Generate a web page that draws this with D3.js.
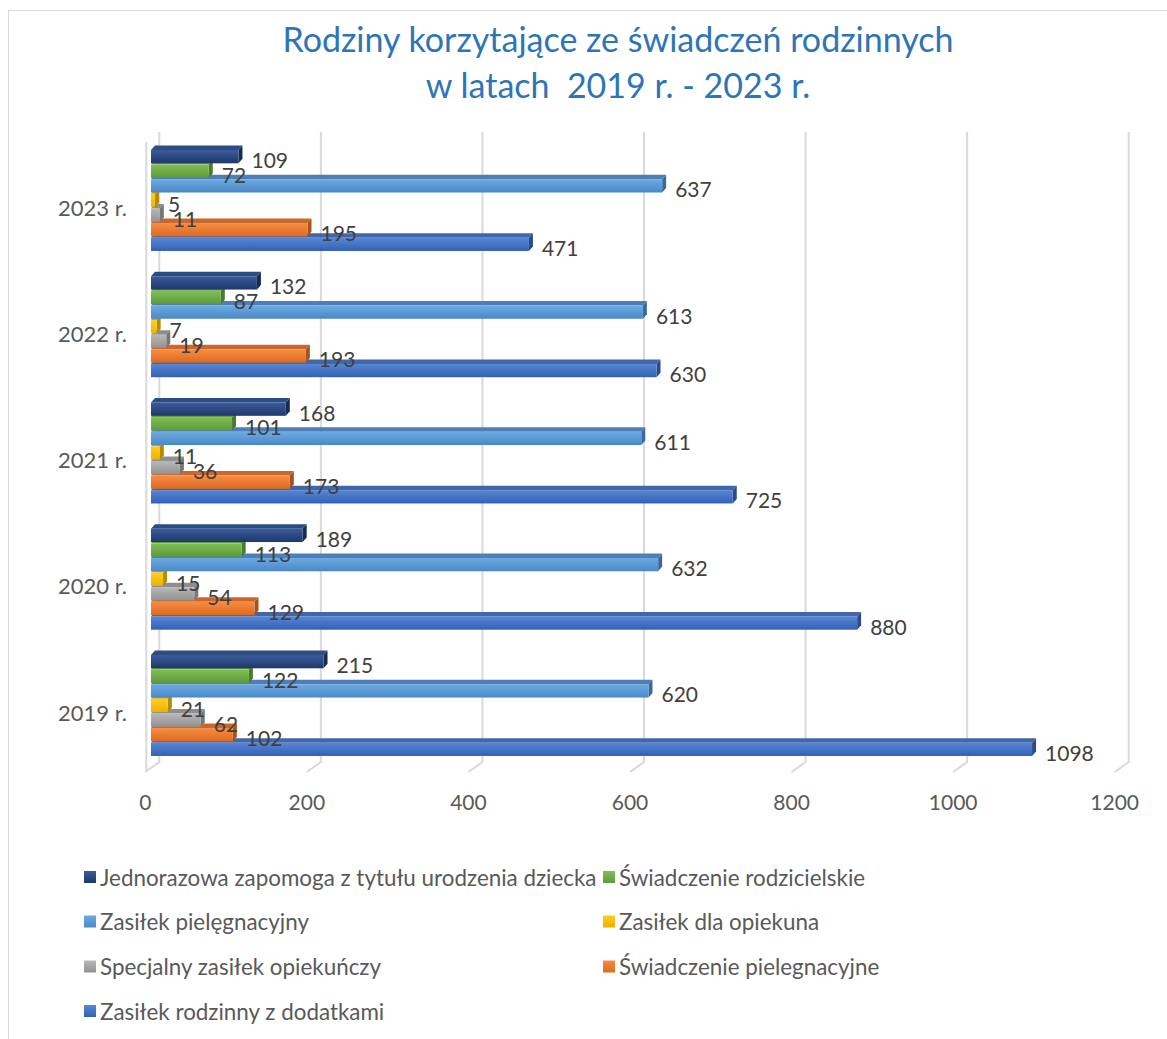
<!DOCTYPE html>
<html>
<head>
<meta charset="utf-8">
<script src="https://cdn.jsdelivr.net/npm/d3@7"></script>
<style>
  html, body { margin: 0; padding: 0; background: #fff; }
  svg { display: block; }
</style>
</head>
<body>
<svg id="chart" width="1167" height="1039"></svg>
<script>
// ---- data ----
const categories = ["2023 r.", "2022 r.", "2021 r.", "2020 r.", "2019 r."];
const seriesNames = [
  "Jednorazowa zapomoga z tytułu urodzenia dziecka",
  "Świadczenie rodzicielskie",
  "Zasiłek pielęgnacyjny",
  "Zasiłek dla opiekuna",
  "Specjalny zasiłek opiekuńczy",
  "Świadczenie pielegnacyjne",
  "Zasiłek rodzinny z dodatkami"
];
const jednorazowa      = [109, 132, 168, 189, 215];
const rodzicielskie    = [72, 87, 101, 113, 122];
const pielegnacyjny    = [637, 613, 611, 632, 620];
const dlaOpiekuna      = [5, 7, 11, 15, 21];
const specjalny        = [11, 19, 36, 54, 62];
const swPielegnacyjne  = [195, 193, 173, 129, 102];
const rodzinny         = [471, 630, 725, 880, 1098];
const seriesValues = [jednorazowa, rodzicielskie, pielegnacyjny, dlaOpiekuna, specjalny, swPielegnacyjne, rodzinny];
const tickValues = [0, 200, 400, 600, 800, 1000, 1200];
const titleLines = ["Rodziny korzytające ze świadczeń rodzinnych", "w latach  2019 r. - 2023 r."];

// ---- styles ----
const palette = [
  {light: "#3A5C9C", dark: "#1F3868", top: "#2C4C84", end: "#172C52"},
  {light: "#80BF56", dark: "#5E9A3A", top: "#62A03E", end: "#4A7A2E"},
  {light: "#6DAAE2", dark: "#4A89C8", top: "#4E7EB6", end: "#3A69A0"},
  {light: "#FFCD22", dark: "#EDB200", top: "#D6A000", end: "#B88A00"},
  {light: "#B8B8B8", dark: "#929292", top: "#8E8E8E", end: "#777777"},
  {light: "#F68D44", dark: "#DE6A1E", top: "#C9682C", end: "#A8531C"},
  {light: "#5887D4", dark: "#3360B5", top: "#4366A8", end: "#2B4C8C"}
];
const FONT = "Lato, 'Open Sans', sans-serif";

const svg = d3.select("#chart");
const defs = svg.append("defs");
palette.forEach((p, i) => {
  const g = defs.append("linearGradient").attr("id", "g" + i)
    .attr("x1", 0).attr("y1", 0).attr("x2", 0).attr("y2", 1);
  g.append("stop").attr("offset", "0%").attr("stop-color", p.light);
  g.append("stop").attr("offset", "100%").attr("stop-color", p.dark);
});

// chart border
svg.append("rect").attr("x", 8.5).attr("y", 10.5).attr("width", 1300).attr("height", 1200)
  .attr("fill", "none").attr("stroke", "#D9D9D9").attr("stroke-width", 1);

// title
svg.append("g").selectAll("text").data(titleLines).join("text")
  .attr("x", 618).attr("y", (d, i) => 38 + i * 46)
  .attr("text-anchor", "middle").attr("dominant-baseline", "central")
  .attr("font-family", FONT).attr("font-size", 34).attr("fill", "#2E75B6")
  .attr("xml:space", "preserve").style("white-space", "pre")
  .text(d => d);

// scales
const x = d3.scaleLinear().domain([0, 1200]).range([159.3, 1128.7]);   // back wall (gridlines)
const xb = d3.scaleLinear().domain([0, 1200]).range([151, 1113.9]);    // bar front faces
const DEPTH_X = 14, DEPTH_Y = 10;
const y = d3.scaleBand().domain(categories).range([138, 138 + 5 * 126.25])
  .paddingInner(0.19).paddingOuter(0.095);
const yInner = d3.scaleBand().domain(seriesNames).range([0, y.bandwidth()]);
const faceH = yInner.bandwidth() - 1.3;
const bdx = 4, bdy = 4.5;

const gridTop = 132, gridBottom = 762;
svg.append("line").attr("x1", x(0) - DEPTH_X + 1).attr("x2", x(0) - DEPTH_X + 1)
  .attr("y1", gridTop + DEPTH_Y).attr("y2", gridBottom + DEPTH_Y)
  .attr("stroke", "#D9D9D9").attr("stroke-width", 2);
svg.append("g").selectAll("path").data(tickValues).join("path")
  .attr("d", d => `M${x(d)},${gridTop}L${x(d)},${gridBottom}L${x(d) - DEPTH_X},${gridBottom + DEPTH_Y}`)
  .attr("fill", "none").attr("stroke", "#D9D9D9").attr("stroke-width", 2);

// tick labels
svg.append("g").selectAll("text").data(tickValues).join("text")
  .attr("x", d => x(d) - 14).attr("y", 801)
  .attr("text-anchor", "middle").attr("dominant-baseline", "central")
  .attr("font-family", FONT).attr("font-size", 21).attr("fill", "#595959")
  .text(d => d);

// category labels
svg.append("g").selectAll("text").data(categories).join("text")
  .attr("x", 127).attr("y", d => y(d) + y.bandwidth() / 2 + 6)
  .attr("text-anchor", "end").attr("dominant-baseline", "central")
  .attr("font-family", FONT).attr("font-size", 22).attr("fill", "#595959")
  .text(d => d);

// bars
const bars = [];
categories.forEach((c, ci) => {
  seriesNames.forEach((s, si) => {
    bars.push({c, s, si, v: seriesValues[si][ci]});
  });
});
bars.sort((a, b) => (y(b.c) + yInner(b.s)) - (y(a.c) + yInner(a.s)));
const barG = svg.append("g");
bars.forEach(b => {
  const x0 = xb(0), x1 = xb(b.v);
  const t = y(b.c) + yInner(b.s);
  const p = palette[b.si];
  const g = barG.append("g");
  g.append("path")
    .attr("d", `M${x0},${t}L${x0 + bdx},${t - bdy}L${x1 + bdx},${t - bdy}L${x1},${t}Z`)
    .attr("fill", p.top);
  g.append("path")
    .attr("d", `M${x1},${t}L${x1 + bdx},${t - bdy}L${x1 + bdx},${t + faceH - bdy}L${x1},${t + faceH}Z`)
    .attr("fill", p.end);
  g.append("rect").attr("x", x0).attr("y", t).attr("width", Math.max(0, x1 - x0)).attr("height", faceH)
    .attr("fill", `url(#g${b.si})`);
});

// data labels
svg.append("g").selectAll("text").data(bars).join("text")
  .attr("x", d => xb(d.v) + 13)
  .attr("y", d => y(d.c) + yInner(d.s) + faceH / 2 + 3)
  .attr("dominant-baseline", "central")
  .attr("font-family", FONT).attr("font-size", 21).attr("fill", "#404040")
  .text(d => d.v);

// legend
const legendX = [84, 603];
const legendY = [877, 921.5, 966.5, 1011];
const lg = svg.append("g").selectAll("g").data(seriesNames).join("g")
  .attr("transform", (d, i) => `translate(${legendX[i % 2]},${legendY[Math.floor(i / 2)]})`);
lg.append("rect").attr("x", 0).attr("y", -6).attr("width", 12).attr("height", 12)
  .attr("fill", (d, i) => `url(#g${i})`);
lg.append("text").attr("x", 16).attr("y", 0).attr("dominant-baseline", "central")
  .attr("font-family", FONT).attr("font-size", 22.4).attr("fill", "#595959")
  .text(d => d);
</script>
</body>
</html>
